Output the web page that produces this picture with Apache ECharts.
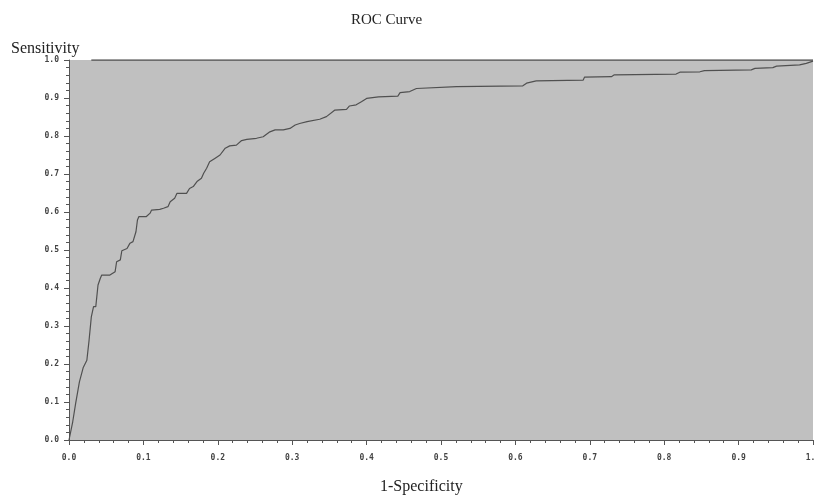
<!DOCTYPE html>
<html>
<head>
<meta charset="utf-8">
<script src="https://cdn.jsdelivr.net/npm/echarts@6/dist/echarts.min.js"></script>
<style>
  html, body { margin: 0; padding: 0; background: #fff; }
  #roc { width: 814px; height: 495px; }
</style>
</head>
<body>
<div id="roc"></div>
<script>
// 1-specificity / sensitivity
const fpr = [0, 0.001, 0.005, 0.009, 0.014, 0.019, 0.024, 0.027, 0.030, 0.033, 0.036, 0.039, 0.042, 0.044,
  0.055, 0.062, 0.064, 0.069, 0.071, 0.078, 0.082, 0.086, 0.090, 0.092, 0.094, 0.104, 0.109, 0.111,
  0.122, 0.127, 0.133, 0.136, 0.142, 0.145, 0.158, 0.162, 0.167, 0.172, 0.178, 0.181, 0.185, 0.189,
  0.196, 0.203, 0.210, 0.216, 0.225, 0.232, 0.239, 0.252, 0.261, 0.270, 0.277, 0.288, 0.297, 0.304,
  0.310, 0.320, 0.337, 0.346, 0.357, 0.373, 0.377, 0.386, 0.393, 0.400, 0.416, 0.442, 0.445, 0.458,
  0.467, 0.521, 0.523, 0.610, 0.615, 0.628, 0.691, 0.693, 0.729, 0.733, 0.816, 0.821, 0.848, 0.854,
  0.917, 0.922, 0.946, 0.951, 0.982, 0.991, 1.0];
const tpr = [0, 0.005, 0.048, 0.097, 0.153, 0.190, 0.210, 0.263, 0.324, 0.351, 0.351, 0.408, 0.425, 0.434,
  0.434, 0.443, 0.469, 0.474, 0.498, 0.504, 0.518, 0.522, 0.548, 0.579, 0.588, 0.588, 0.597, 0.605,
  0.607, 0.610, 0.614, 0.627, 0.636, 0.649, 0.649, 0.662, 0.667, 0.680, 0.689, 0.702, 0.715, 0.732,
  0.741, 0.750, 0.768, 0.774, 0.776, 0.788, 0.791, 0.794, 0.798, 0.811, 0.816, 0.816, 0.820, 0.829,
  0.833, 0.838, 0.844, 0.851, 0.868, 0.870, 0.879, 0.882, 0.890, 0.899, 0.903, 0.905, 0.914, 0.917,
  0.925, 0.930, 0.932, 0.932, 0.939, 0.945, 0.947, 0.955, 0.956, 0.961, 0.963, 0.968, 0.969, 0.972,
  0.974, 0.978, 0.980, 0.984, 0.987, 0.991, 0.997];
// dark line along the top of the frame
const topX = [0.030, 1.0];
const topY = [1.0, 1.0];

const tickFont = { fontFamily: 'DejaVu Sans Mono', fontSize: 8, color: '#444', fontWeight: 'bold' };
const serif = { fontFamily: 'Liberation Serif', fontWeight: 'normal', color: '#222' };

let chart = echarts.init(document.getElementById('roc'));
chart.setOption({
  animation: false,
  title: [
    { text: 'ROC Curve', left: 346, top: 8, textStyle: Object.assign({ fontSize: 15 }, serif) },
    { text: 'Sensitivity', left: 6, top: 36, textStyle: Object.assign({ fontSize: 16 }, serif) },
    { text: '1-Specificity', left: 375, top: 474, textStyle: Object.assign({ fontSize: 16 }, serif) }
  ],
  grid: { left: 69, right: 1, top: 60, bottom: 55, outerBoundsMode: 'none', containLabel: false,
    show: true, backgroundColor: '#c0c0c0', borderWidth: 0 },
  xAxis: {
    type: 'value', min: 0, max: 1, interval: 0.1,
    axisLine: { lineStyle: { color: '#555', width: 1 } },
    axisTick: { show: true, length: 5, lineStyle: { color: '#555' } },
    minorTick: { show: true, splitNumber: 5, length: 3, lineStyle: { color: '#555' } },
    splitLine: { show: false },
    axisLabel: Object.assign({ margin: 14, formatter: v => v.toFixed(1) }, tickFont)
  },
  yAxis: {
    type: 'value', min: 0, max: 1, interval: 0.1,
    axisLine: { show: true, lineStyle: { color: '#555', width: 1 } },
    axisTick: { show: true, length: 5, lineStyle: { color: '#555' } },
    minorTick: { show: true, splitNumber: 5, length: 3, lineStyle: { color: '#555' } },
    splitLine: { show: false },
    axisLabel: Object.assign({ margin: 10, formatter: v => v.toFixed(1) }, tickFont)
  },
  series: [
    {
      name: 'ROC', type: 'line', symbol: 'none',
      data: fpr.map((x, i) => [x, tpr[i]]),
      lineStyle: { color: '#505050', width: 1.2 }
    },
    {
      name: 'top', type: 'line', symbol: 'none',
      data: topX.map((x, i) => [x, topY[i]]),
      lineStyle: { color: '#505050', width: 1.5 }
    }
  ]
});
</script>
</body>
</html>
